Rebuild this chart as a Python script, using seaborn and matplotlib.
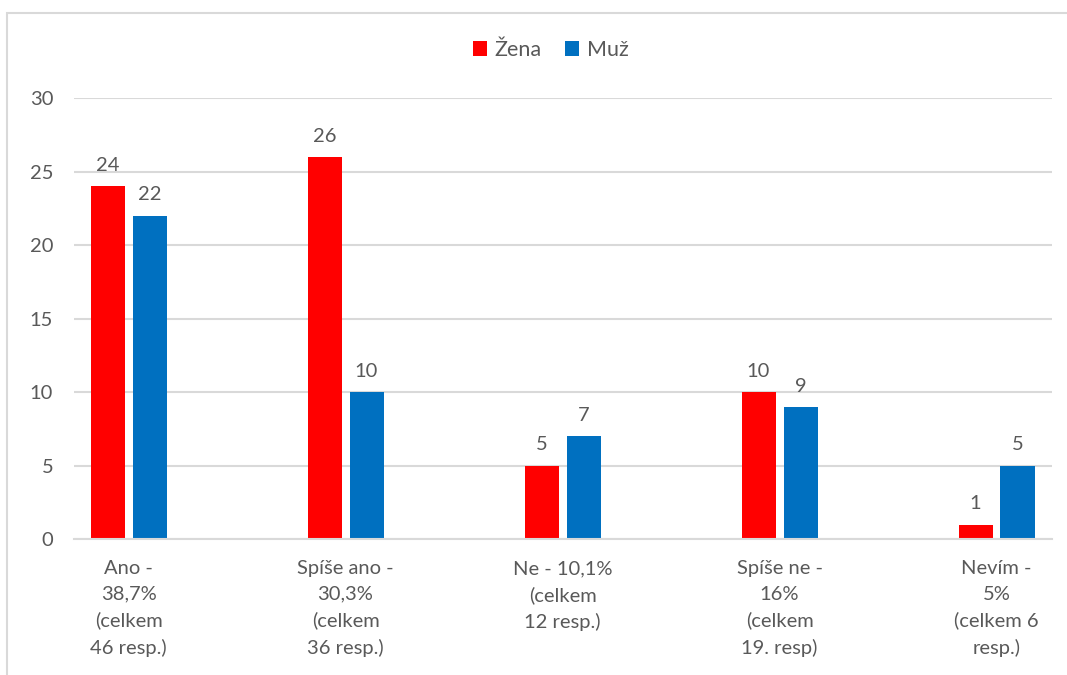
import pandas as pd
import seaborn as sns
import matplotlib.pyplot as plt
from matplotlib.patches import Rectangle

# data
categories = [
    "Ano -\n38,7%\n(celkem\n46 resp.)",
    "Spíše ano -\n30,3%\n(celkem\n36 resp.)",
    "Ne - 10,1%\n(celkem\n12 resp.)",
    "Spíše ne -\n16%\n(celkem\n19. resp)",
    "Nevím -\n5%\n(celkem 6\nresp.)",
]
zena = [24, 26, 5, 10, 1]
muz = [22, 10, 7, 9, 5]
series = ["Žena", "Muž"]
colors = ["#FF0000", "#0070C0"]

df = pd.DataFrame({
    "kategorie": categories * 2,
    "pohlavi": [series[0]] * len(zena) + [series[1]] * len(muz),
    "pocet": zena + muz,
})

sns.set_style("white")
plt.rcParams["font.family"] = ["Lato", "DejaVu Sans"]
text_gray = "#595959"
grid_gray = "#d9d9d9"

fig = plt.figure(figsize=(10.67, 6.75), dpi=100)
ax = fig.add_axes([0.0694, 0.201, 0.9166, 0.6534])

sns.barplot(
    data=df, x="kategorie", y="pocet", hue="pohlavi",
    hue_order=series, palette=colors, saturation=1,
    width=0.387, gap=0.19, linewidth=0, ax=ax,
)

for cont in ax.containers:
    ax.bar_label(cont, padding=9, color=text_gray, fontsize=14.5)

ax.set_ylim(0, 30)
ax.set_xlim(-0.251, 4.256)
ax.set_yticks(range(0, 31, 5))
ax.yaxis.grid(True, color=grid_gray, linewidth=1.5)
ax.set_axisbelow(True)
for s in ["top", "right", "left"]:
    ax.spines[s].set_visible(False)
ax.spines["bottom"].set_color(grid_gray)
ax.spines["bottom"].set_linewidth(1.5)
ax.tick_params(axis="y", length=0, pad=15, labelsize=14.5, labelcolor=text_gray)
ax.tick_params(axis="x", length=0, pad=15, labelsize=14.5, labelcolor=text_gray)
for lab in ax.get_xticklabels():
    lab.set_linespacing(1.6)
ax.set_xlabel("")
ax.set_ylabel("")

handles, labels = ax.get_legend_handles_labels()
ax.legend_.remove()
leg = fig.legend(
    handles, labels, loc="center", bbox_to_anchor=(0.516, 0.926),
    ncol=2, frameon=False, fontsize=15.5, handlelength=0.65,
    handleheight=0.65, handletextpad=0.35, columnspacing=1.1,
)
for t in leg.get_texts():
    t.set_color(text_gray)

# light frame around the chart area
fig.patches.append(Rectangle((7 / 1067, -0.1), 1.2, 1.1 - 13 / 675,
                             transform=fig.transFigure, fill=False,
                             edgecolor=grid_gray, linewidth=1.5))

fig.savefig("out.png", dpi=100)
